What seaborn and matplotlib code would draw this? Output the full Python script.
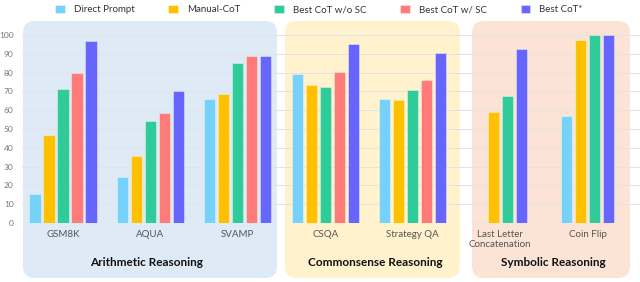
import numpy as np
import pandas as pd
import matplotlib
matplotlib.use("Agg")
import matplotlib.pyplot as plt
import seaborn as sns
from matplotlib.patches import FancyBboxPatch
from matplotlib.transforms import IdentityTransform

tasks = ["GSM8K", "AQUA", "SVAMP", "CSQA", "Strategy QA",
         "Last Letter\nConcatenation", "Coin Flip"]
methods = ["Direct Prompt", "Manual-CoT", "Best CoT w/o SC", "Best CoT w/ SC", "Best CoT*"]
direct_prompt = [15.6, 24.5, 65.7, 79.4, 65.7, 0.4, 57.0]
manual_cot = [46.7, 35.7, 68.7, 73.4, 65.4, 58.8, 97.2]
best_wo_sc = [71.4, 54.0, 85.1, 72.6, 70.7, 67.5, 100.0]
best_w_sc = [79.9, 58.4, 89.0, 80.1, 76.2, np.nan, np.nan]
best_star = [97.0, 70.2, 89.0, 95.0, 90.2, 92.7, 100.0]
yticks = [0, 10, 20, 30, 40, 50, 60, 70, 80, 90, 100]
groups = ["Arithmetic Reasoning", "Commonsense Reasoning", "Symbolic Reasoning"]

colors = {"Direct Prompt": "#76D2FA", "Manual-CoT": "#FFC000",
          "Best CoT w/o SC": "#2FCB98", "Best CoT w/ SC": "#FF7B79",
          "Best CoT*": "#6666FF"}

rows = []
for m, vals in zip(methods, [direct_prompt, manual_cot, best_wo_sc, best_w_sc, best_star]):
    for t, v in zip(tasks, vals):
        if not np.isnan(v):
            rows.append({"task": t, "method": m, "acc": v})
df = pd.DataFrame(rows)

sns.set_theme(style="white")
plt.rcParams["font.family"] = ["Lato", "DejaVu Sans"]

W, H = 640, 282
fig = plt.figure(figsize=(W / 100, H / 100), dpi=100)
ax = fig.add_axes([22 / W, (H - 223) / H, (W - 22) / W, (223 - 35) / H])
ax.set_facecolor("none")
ax.set_zorder(1)

# background panels (pixel coords, origin bottom-left)
panels = [(23, 277, "#DEEAF6"), (285, 460, "#FFF2CC"), (472, 630, "#FBE3D6")]
for x0, x1, c in panels:
    p = FancyBboxPatch((x0, H - 278), x1 - x0, 278 - 21,
                       boxstyle="round,pad=0,rounding_size=12",
                       transform=IdentityTransform(), facecolor=c,
                       edgecolor="none", zorder=-5)
    fig.add_artist(p)

first = df[df.task.isin(tasks[:5])]
second = df[df.task.isin(tasks[5:])]
sym_methods = [m for m in methods if m != "Best CoT w/ SC"]

sns.barplot(data=first, x="task", y="acc", hue="method", order=tasks,
            hue_order=methods, palette=colors, width=0.8, gap=0.2, saturation=1,
            edgecolor=(1, 1, 1, 0.45), linewidth=0.6, ax=ax, zorder=3)
sns.barplot(data=second, x="task", y="acc", hue="method", order=tasks,
            hue_order=sym_methods, palette=colors, width=0.64, gap=0.2, saturation=1,
            edgecolor=(1, 1, 1, 0.45), linewidth=0.6, ax=ax, legend=False, zorder=3)

handles, labels = ax.get_legend_handles_labels()
ax.get_legend().remove()
fig.legend(handles, labels, ncol=5, loc="upper center",
           bbox_to_anchor=(0.498, 1.015), frameon=False, fontsize=7,
           handlelength=1.0, handleheight=1.0, handletextpad=0.9,
           columnspacing=3.5, labelcolor="#333333")

ax.set_ylim(0, 100)
ax.set_xlim(-0.469, 6.6)
ax.set_yticks(yticks)
ax.yaxis.grid(True, color="#E3E3E3", linewidth=0.7, zorder=0)
ax.set_axisbelow(True)
for s in ax.spines.values():
    s.set_visible(False)
ax.tick_params(axis="y", length=0, labelsize=6, labelcolor="#777777", pad=6)
ax.tick_params(axis="x", length=0, labelsize=7, labelcolor="#555555", pad=5)
ax.set_xlabel("")
ax.set_ylabel("")

for gx, g in zip([147, 375, 553], groups):
    fig.text(gx / W, (H - 263) / H, g, ha="center", va="center",
             fontsize=8.5, fontweight="bold", color="#111111")

fig.savefig("out.png", dpi=100)
